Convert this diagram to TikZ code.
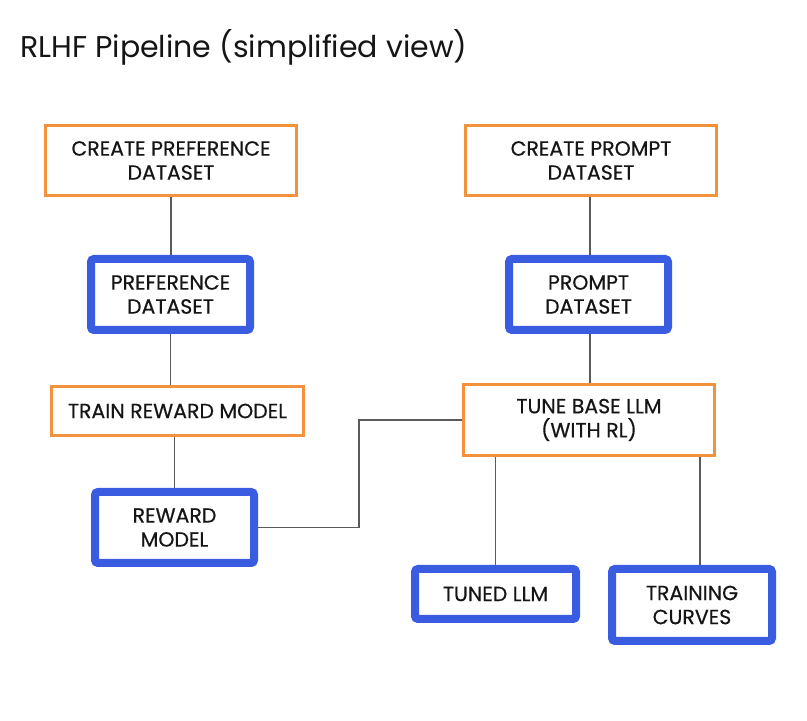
\documentclass[tikz,border=0pt]{standalone}
\usepackage{fontspec}
\setmainfont{Poppins}
\newfontfamily\boxfont{Poppins}[FakeBold=0.5]
\usetikzlibrary{backgrounds,calc}
\definecolor{orangeb}{HTML}{F2923C}
\definecolor{blueb}{HTML}{3A5CE0}
\definecolor{linec}{HTML}{5A5A5A}
\definecolor{textc}{HTML}{151515}
\tikzset{
  obox/.style={draw=orangeb, line width=3pt, fill=white, rectangle, inner sep=0pt, align=center, text=textc, font=\boxfont\fontsize{20.5}{24}\selectfont},
  bbox/.style={draw=blueb, line width=8pt, fill=white, rectangle, rounded corners=3pt, inner sep=0pt, align=center, text=textc, font=\boxfont\fontsize{20.5}{24}\selectfont},
  conn/.style={draw=linec, line width=1.3pt}
}
\begin{document}
\begin{tikzpicture}[x=1pt,y=1pt]
\useasboundingbox (0,0) rectangle (807,721);
\node[anchor=base west, inner sep=0pt, text=textc, font=\fontsize{30}{36}\selectfont] (title) at (20,663) {RLHF Pipeline (simplified view)};
\node[obox, minimum width=251pt, minimum height=70pt] (cpd) at (171,560.5) {CREATE PREFERENCE\\DATASET};
\node[obox, minimum width=251pt, minimum height=70pt] (cprd) at (591,560.5) {CREATE PROMPT\\DATASET};
\node[bbox, minimum width=159pt, minimum height=71pt] (pd) at (170.5,426.5) {PREFERENCE\\DATASET};
\node[bbox, minimum width=159pt, minimum height=71pt] (prd) at (588.5,426.5) {PROMPT\\DATASET};
\node[obox, minimum width=252pt, minimum height=49pt] (trm) at (177.5,310) {TRAIN REWARD MODEL};
\node[obox, minimum width=251pt, minimum height=71pt] (tune) at (589,301) {TUNE BASE LLM\\(WITH RL)};
\node[bbox, minimum width=159pt, minimum height=71pt] (rm) at (174.5,193.5) {REWARD\\MODEL};
\node[bbox, minimum width=161pt, minimum height=50pt] (tllm) at (495.5,127) {TUNED LLM};
\node[bbox, minimum width=160pt, minimum height=72pt] (tc) at (692,116) {TRAINING\\CURVES};
\begin{scope}[on background layer]
\draw[conn] (cpd.south) -- (cpd.south |- pd.north);
\draw[conn] (pd.south) -- (pd.south |- trm.north);
\draw[conn] (rm.north) -- (rm.north |- trm.south);
\draw[conn] ([xshift=1.5pt]prd.north) -- ([xshift=1.5pt]prd.north |- cprd.south);
\draw[conn] ([xshift=1.5pt]prd.south) -- ([xshift=1.5pt]prd.south |- tune.north);
\draw[conn] (rm.east) -- ++(101,0) |- (tune.west);
\draw[conn] (tllm.north) -- (tllm.north |- tune.south);
\draw[conn] ([xshift=8pt]tc.north) -- ([xshift=8pt]tc.north |- tune.south);
\end{scope}
\end{tikzpicture}
\end{document}
